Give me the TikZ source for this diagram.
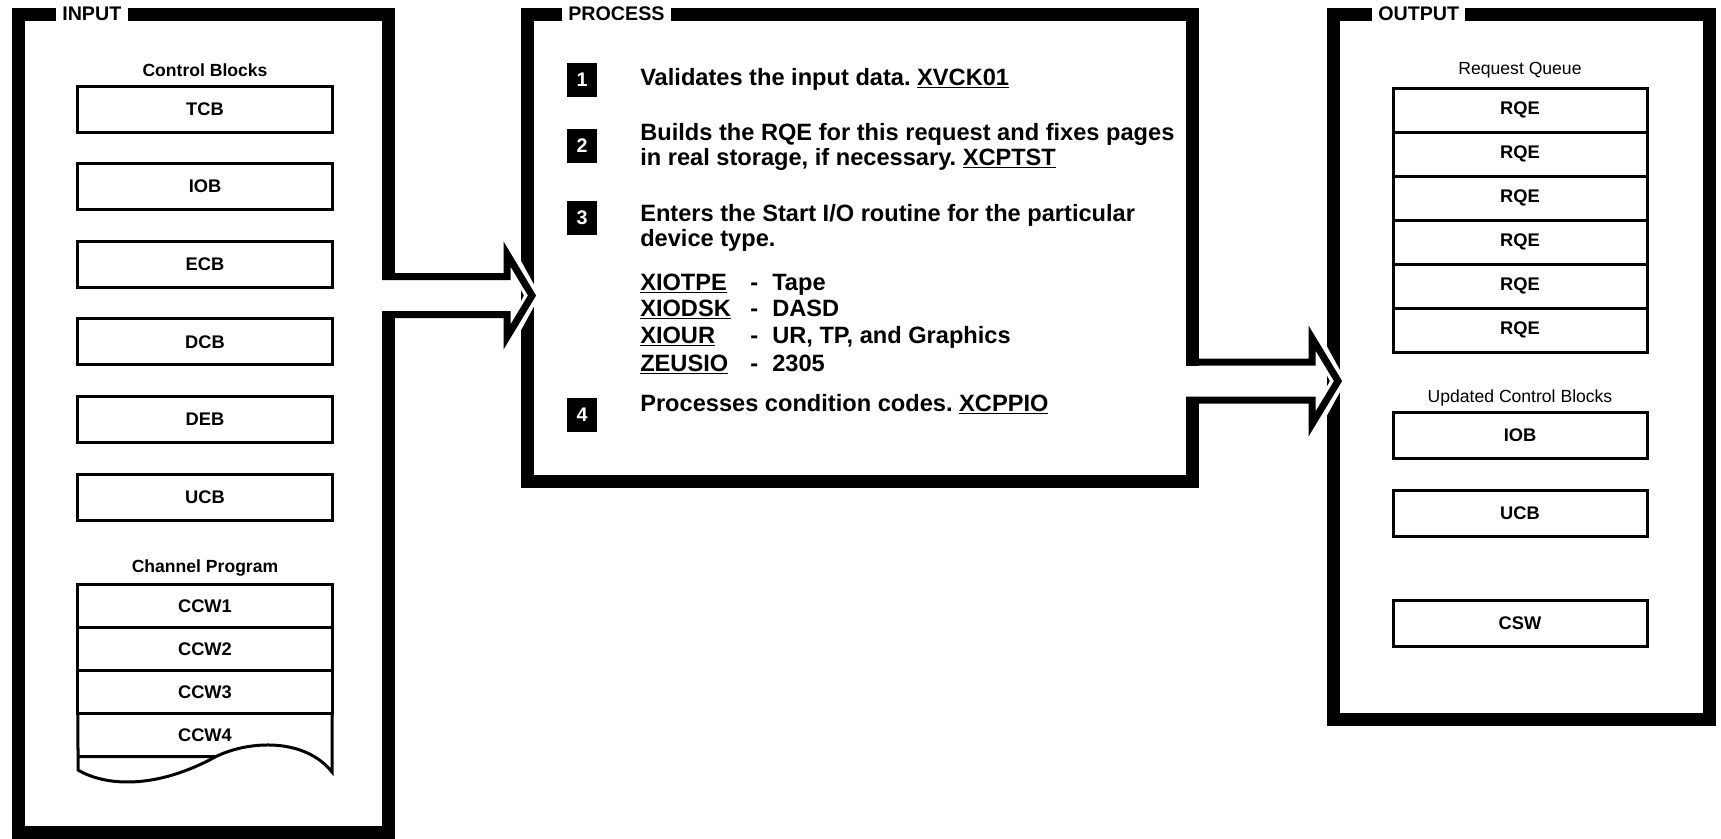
\documentclass[tikz,border=0pt]{standalone}
\usepackage{fontspec}
\setmainfont{Liberation Sans}
\usepackage{tikz}
\usetikzlibrary{positioning}
\frenchspacing

\tikzset{
  boxframe/.style={line width=3.25mm, line join=miter},
  pointer/.style={line width=1.75mm, line join=miter},
  halo/.style={line width=3.5mm, white, line join=miter},
  ttl/.style={inner sep=1.5mm, font=\fontsize{14}{16}\selectfont\bfseries},
  lbl/.style={inner sep=0pt, font=\fontsize{12.5}{14}\selectfont\bfseries},
  blk/.style={draw, line width=0.75mm, minimum width=63.5mm, minimum height=11.5mm, inner sep=0pt, outer sep=0pt, font=\fontsize{13}{15}\selectfont\bfseries},
  row/.style={blk, minimum height=10.75mm},
  badge/.style={fill=black, text=white, minimum width=7.5mm, minimum height=8.5mm, inner sep=0pt, font=\fontsize{14}{16}\selectfont\bfseries},
  steptxt/.style={anchor=base west, inner sep=0pt, font=\fontsize{16.8}{19}\selectfont\bfseries},
}

\begin{document}
\begin{tikzpicture}[x=0.25mm, y=-0.25mm]
\useasboundingbox (0,0) rectangle (1721,838);

% frames
\node[ttl, anchor=west] (inttl) at (56,14) {INPUT};
\draw[boxframe] (inttl.east) -- (388.5,14) -- (388.5,280);
\draw[boxframe] (388.5,311) -- (388.5,832) -- (18.5,832) -- (18.5,14) -- (inttl.west);

\node[ttl, anchor=west] (prttl) at (562,14) {PROCESS};
\draw[boxframe] (prttl.east) -- (1192,14) -- (1192,365.5);
\draw[boxframe] (1192,396.5) -- (1192,481) -- (527,481) -- (527,14) -- (prttl.west);

\node[ttl, anchor=west] (outttl) at (1372,14) {OUTPUT};
\draw[boxframe] (outttl.east) -- (1709,14) -- (1709,719) -- (1333,719) -- (1333,14) -- (outttl.west);

% big arrows
\draw[halo] (507,250) -- (532,295.5) -- (507,341);
\draw[pointer] (382,276.5) -- (507,276.5) -- (507,254) -- (532,295.5) -- (507,337) -- (507,314.5) -- (382,314.5);
\draw[halo] (1312,334) -- (1338,381) -- (1312,428);
\draw[pointer] (1186,362) -- (1312,362) -- (1312,338) -- (1338,381) -- (1312,424) -- (1312,400) -- (1186,400);

% input
\node[lbl] (cbttl) at (205,70) {Control Blocks};
\node[blk] (tcb) at (205,109) {TCB};
\node[blk, below=7.9mm of tcb] (iob) {IOB};
\node[blk, below=7.9mm of iob] (ecb) {ECB};
\node[blk, below=7.9mm of ecb] (dcb) {DCB};
\node[blk, below=7.9mm of dcb] (deb) {DEB};
\node[blk, below=7.9mm of deb] (ucb) {UCB};

\node[lbl] (cpttl) at (205,568) {Channel Program};
\node[row] (ccw1) at (205,606) {CCW1};
\node[row, below=0mm of ccw1] (ccw2) {CCW2};
\node[row, below=0mm of ccw2] (ccw3) {CCW3};
\node[row, below=0mm of ccw3, draw=none] (ccw4) {CCW4};
% torn bottom
\draw[line width=0.75mm] (ccw4.north west) -- (78,770) .. controls (105,786) and (155,790) .. (216,756.5) .. controls (250,740) and (305,738) .. (332,772) -- (ccw4.north east);
\draw[line width=0.75mm] (ccw4.south west) -- (216,756.5);

% process
\node[badge] (n1) at (582,80) {1};
\node[steptxt] (s1) at (640,85) {Validates the input data. \underline{XVCK01}};
\node[badge] (n2) at (582,146) {2};
\node[steptxt] (s2a) at (640,140) {Builds the RQE for this request and fixes pages};
\node[steptxt] (s2b) at (640,165) {in real storage, if necessary. \underline{XCPTST}};
\node[badge] (n3) at (582,218) {3};
\node[steptxt] (s3a) at (640,221) {Enters the Start I/O routine for the particular};
\node[steptxt] (s3b) at (640,246) {device type.};
\node[steptxt] (c1) at (640,290) {\underline{XIOTPE}};
\node[steptxt] (c2) at (640,316) {\underline{XIODSK}};
\node[steptxt] (c3) at (640,343) {\underline{XIOUR}};
\node[steptxt] (c4) at (640,371) {\underline{ZEUSIO}};
\node[steptxt] (d1) at (750,290) {-};
\node[steptxt] (d2) at (750,316) {-};
\node[steptxt] (d3) at (750,343) {-};
\node[steptxt] (d4) at (750,371) {-};
\node[steptxt] (t1) at (772,290) {Tape};
\node[steptxt] (t2) at (772,316) {DASD};
\node[steptxt] (t3) at (772,343) {UR, TP, and Graphics};
\node[steptxt] (t4) at (772,371) {2305};
\node[badge] (n4) at (582,415) {4};
\node[steptxt] (s4) at (640,411) {Processes condition codes. \underline{XCPPIO}};

% output
\node[lbl, font=\fontsize{12.5}{14}\selectfont] (rqttl) at (1520,70) {Request Queue};
\node[row, minimum height=11mm] (rqe1) at (1520,110) {RQE};
\node[row, minimum height=11mm, below=0mm of rqe1] (rqe2) {RQE};
\node[row, minimum height=11mm, below=0mm of rqe2] (rqe3) {RQE};
\node[row, minimum height=11mm, below=0mm of rqe3] (rqe4) {RQE};
\node[row, minimum height=11mm, below=0mm of rqe4] (rqe5) {RQE};
\node[row, minimum height=11mm, below=0mm of rqe5] (rqe6) {RQE};

\node[lbl, font=\fontsize{12.5}{14}\selectfont] (ucbttl) at (1520,398) {Updated Control Blocks};
\node[blk] (oiob) at (1520,435.5) {IOB};
\node[blk, below=8mm of oiob] (oucb) {UCB};
\node[blk, below=16mm of oucb] (csw) {CSW};
\end{tikzpicture}
\end{document}
